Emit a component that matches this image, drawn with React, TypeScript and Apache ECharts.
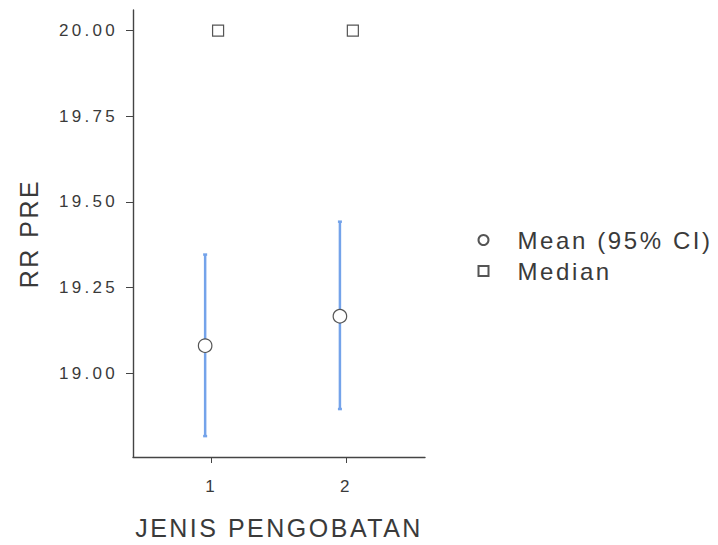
import React, { useEffect, useRef } from "react";
import * as echarts from "echarts";

const categories = [1, 2];
const meanValues = [19.08, 19.166];
const ciLow = [18.816, 18.895];
const ciHigh = [19.346, 19.442];
const medianValues = [20.0, 20.0];
const yTicks = [19.0, 19.25, 19.5, 19.75, 20.0];

const css = `
#chartbox text[style*="25px"] { letter-spacing: 2.5px; }
#chartbox text[style*="24px"] { letter-spacing: 2.6px; }
#chartbox text[style*="17px"] { letter-spacing: 3.3px; }
`;

export default function App() {
  const ref = useRef<HTMLDivElement>(null);
  useEffect(() => {
    if (!ref.current) return;
    const chart = echarts.init(ref.current, null, { renderer: "svg" });
    const font = "Liberation Sans, Arial, sans-serif";
    const blue = "#74a3ea";
    const textColor = "#3a3a3a";
    const option: any = {
      animation: false,
      backgroundColor: "#ffffff",
      textStyle: { fontFamily: font },
      grid: { left: 133, top: 10, width: 292, height: 447.3, containLabel: false },
      legend: {
        orient: "vertical",
        left: 472.5,
        top: 223,
        padding: 5,
        itemGap: 7,
        itemWidth: 10,
        itemHeight: 10,
        textStyle: {
          fontSize: 24,
          lineHeight: 24,
          color: textColor,
          fontFamily: font,
          padding: [0, 0, 0, 24],
        },
        data: [
          { name: "Mean (95% CI)", icon: "circle" },
          { name: "Median", icon: "rect" },
        ],
      },
      xAxis: {
        type: "value",
        min: 5 / 12,
        max: 31 / 12,
        name: "JENIS PENGOBATAN",
        nameLocation: "middle",
        nameGap: 58,
        nameTextStyle: { fontSize: 25, color: textColor, fontFamily: font },
        splitLine: { show: false },
        axisLine: { show: true, lineStyle: { color: "#444", width: 1.4 } },
        axisTick: { show: true, customValues: categories, length: 6, lineStyle: { color: "#444" } },
        axisLabel: {
          customValues: categories,
          fontSize: 17,
          color: textColor,
          margin: 21,
          formatter: (v: number) => String(Math.round(v)),
        },
      },
      yAxis: {
        type: "value",
        min: 18.755,
        max: 20.06,
        name: "RR PRE",
        nameLocation: "middle",
        nameGap: 92,
        nameTextStyle: { fontSize: 25, color: textColor, fontFamily: font },
        splitLine: { show: false },
        axisLine: { show: true, lineStyle: { color: "#444", width: 1.4 } },
        axisTick: { show: true, customValues: yTicks, length: 7, lineStyle: { color: "#444" } },
        axisLabel: {
          customValues: yTicks,
          fontSize: 17,
          color: textColor,
          margin: 15,
          formatter: (v: number) => v.toFixed(2),
        },
      },
      series: [
        {
          type: "custom",
          name: "ci",
          data: categories.map((c, i) => [c - 0.048, ciLow[i], ciHigh[i]]),
          z: 2,
          renderItem: (params: any, api: any) => {
            const x = api.value(0);
            const lo = api.coord([x, api.value(1)]);
            const hi = api.coord([x, api.value(2)]);
            const cap = 2;
            const style = { stroke: blue, lineWidth: 2.5 };
            return {
              type: "group",
              children: [
                { type: "line", shape: { x1: lo[0], y1: lo[1], x2: hi[0], y2: hi[1] }, style },
                { type: "line", shape: { x1: lo[0] - cap, y1: lo[1], x2: lo[0] + cap, y2: lo[1] }, style },
                { type: "line", shape: { x1: hi[0] - cap, y1: hi[1], x2: hi[0] + cap, y2: hi[1] }, style },
              ],
            };
          },
        },
        {
          type: "scatter",
          name: "Mean (95% CI)",
          symbol: "circle",
          symbolSize: 13.5,
          z: 5,
          itemStyle: { color: "#ffffff", borderColor: "#555", borderWidth: 1.2, opacity: 1 },
          data: categories.map((c, i) => [c - 0.048, meanValues[i]]),
        },
        {
          type: "scatter",
          name: "Median",
          symbol: "rect",
          symbolSize: 11,
          z: 5,
          itemStyle: { color: "#ffffff", borderColor: "#555", borderWidth: 1.2, opacity: 1 },
          data: categories.map((c, i) => [c + 0.048, medianValues[i]]),
        },
      ],
    };
    chart.setOption(option);
    return () => chart.dispose();
  }, []);
  return (
    <>
      <style>{css}</style>
      <div
        id="chartbox"
        ref={ref}
        style={{ position: "fixed", left: 0, top: 0, width: 718, height: 545, background: "#fff" }}
      />
    </>
  );
}
